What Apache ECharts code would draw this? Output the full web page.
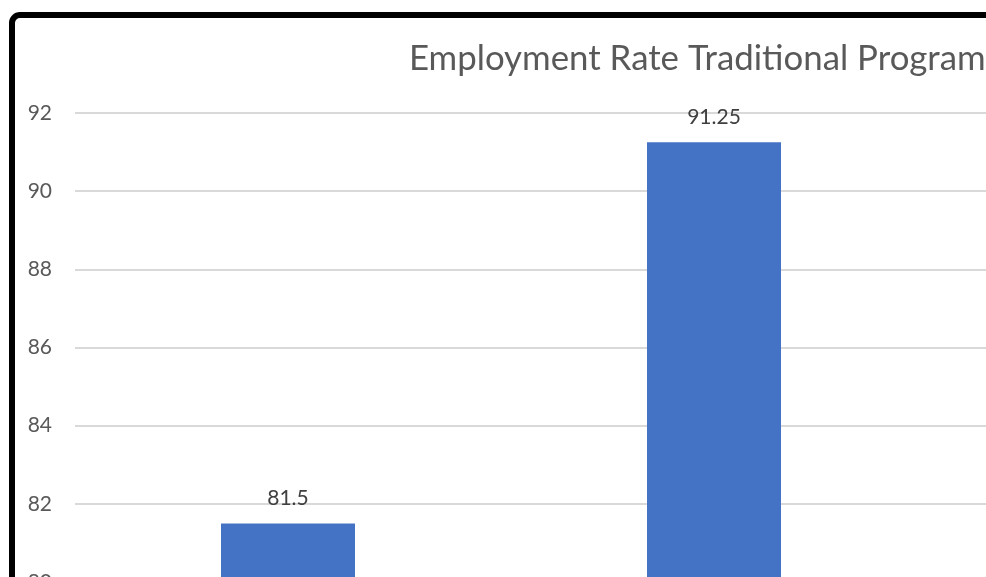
<!DOCTYPE html>
<html>
<head>
<meta charset="utf-8">
<script src="https://cdn.jsdelivr.net/npm/echarts@6/dist/echarts.min.js"></script>
<style>
html,body{margin:0;padding:0;background:#fff;}
#chart{width:986px;height:577px;}
</style>
</head>
<body>
<div id="chart"></div>
<script>
var titleText = 'Employment Rate Traditional Program';
var categories = ['Category 1', 'Category 2', 'Category 3'];
var values = [81.5, 91.25, null];
var yMin = 80, yMax = 92, yStep = 2;

var chart = echarts.init(document.getElementById('chart'));
chart.setOption({
  backgroundColor: '#ffffff',
  animation: false,
  title: {
    text: titleText,
    left: 404,
    top: 36,
    textStyle: { fontFamily: 'Lato', fontSize: 34.8, fontWeight: 'normal', color: '#595959' }
  },
  graphic: [{
    type: 'rect',
    shape: { x: 12, y: 15, width: 1200, height: 800, r: 8 },
    style: { fill: 'none', stroke: '#000000', lineWidth: 6 },
    z: 100
  }],
  grid: { left: 75, top: 113, width: 1278, height: 469, containLabel: false, outerBoundsMode: 'none' },
  xAxis: {
    type: 'category',
    data: categories,
    axisLine: { show: false },
    axisTick: { show: false },
    axisLabel: { show: false }
  },
  yAxis: {
    type: 'value',
    min: yMin, max: yMax, interval: yStep,
    axisLine: { show: false },
    axisTick: { show: false },
    axisLabel: { fontFamily: 'Lato', fontSize: 21, color: '#595959', margin: 23 },
    splitLine: { lineStyle: { color: '#d9d9d9', width: 2 } }
  },
  series: [{
    type: 'bar',
    data: values,
    barWidth: 134,
    itemStyle: { color: '#4472C4' },
    label: {
      show: true,
      position: 'top',
      distance: 15,
      fontFamily: 'Lato',
      fontSize: 21,
      color: '#404040'
    }
  }]
});
</script>
</body>
</html>
